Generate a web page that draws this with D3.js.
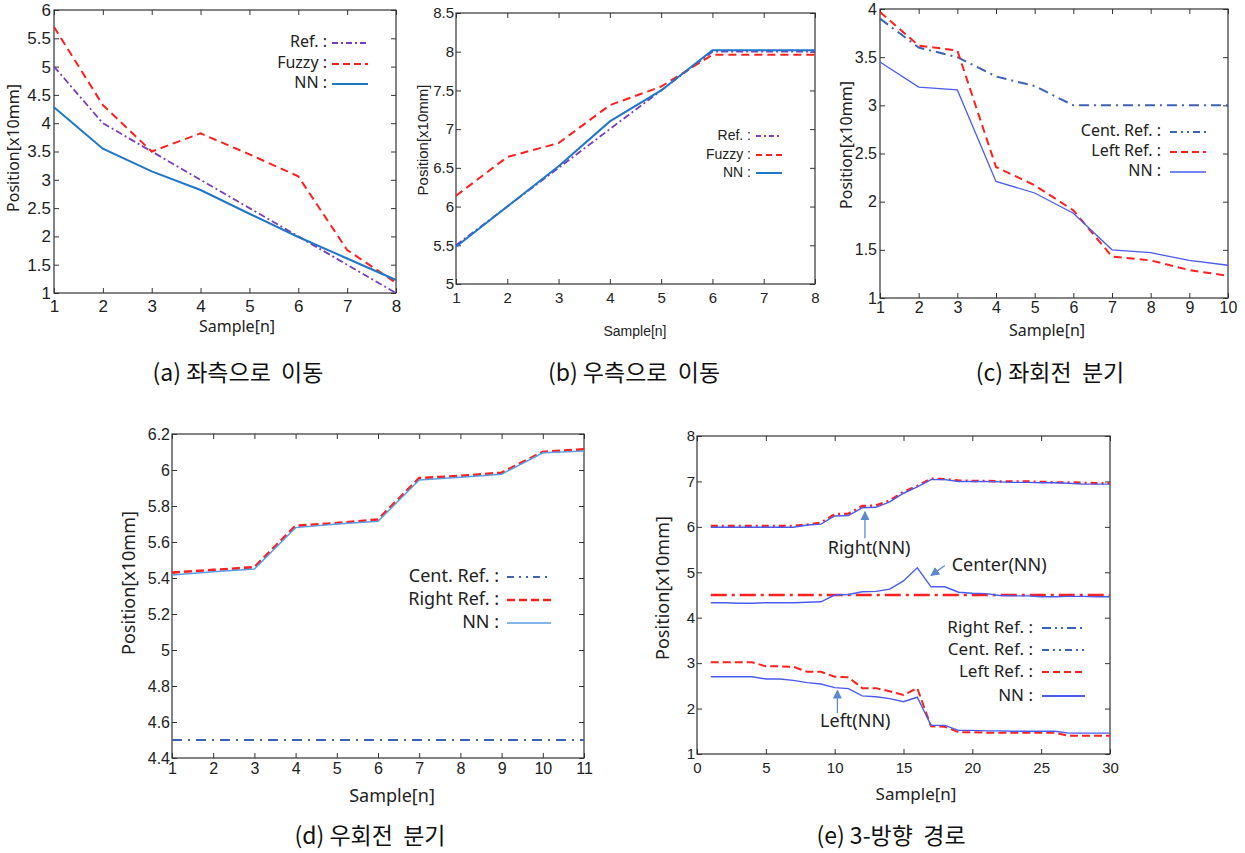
<!DOCTYPE html>
<html>
<head>
<meta charset="utf-8">
<style>
  body { margin: 0; background: #fff; }
  svg { display: block; }
  .caption { font-family: "Noto Sans CJK KR", sans-serif; font-size: 23px; fill: #111; white-space: pre; }
  .lbl { font-family: "Noto Sans", "Open Sans", sans-serif; fill: #222; }
</style>
</head>
<body>
<script src="https://d3js.org/d3.v7.min.js"></script>
<script>

var width = 1245,
    height = 853;

// ---- (a) move left
var aSamples = [1, 2, 3, 4, 5, 6, 7, 8];
var aRef   = [5.0, 4.0, 3.5, 3.0, 2.5, 2.0, 1.5, 1.0];
var aFuzzy = [5.7, 4.32, 3.5, 3.82, 3.45, 3.06, 1.76, 1.18];
var aNN    = [4.28, 3.55, 3.15, 2.82, 2.4, 1.99, 1.61, 1.23];
var aXTicks = [1, 2, 3, 4, 5, 6, 7, 8];
var aYTicks = [1, 1.5, 2, 2.5, 3, 3.5, 4, 4.5, 5, 5.5, 6];

// ---- (b) move right
var bSamples = [1, 2, 3, 4, 5, 6, 7, 8];
var bRef   = [5.5, 6.0, 6.5, 7.0, 7.5, 8.0, 8.0, 8.0];
var bFuzzy = [6.14, 6.64, 6.82, 7.31, 7.55, 7.96, 7.96, 7.96];
var bNN    = [5.48, 6.0, 6.52, 7.1, 7.5, 8.02, 8.02, 8.02];
var bXTicks = [1, 2, 3, 4, 5, 6, 7, 8];
var bYTicks = [5, 5.5, 6, 6.5, 7, 7.5, 8, 8.5];

// ---- (c) left turn branch
var cSamples = [1, 2, 3, 4, 5, 6, 7, 8, 9, 10];
var cCentRef = [3.9, 3.6, 3.5, 3.3, 3.2, 3.0, 3.0, 3.0, 3.0, 3.0];
var cLeftRef = [3.97, 3.62, 3.57, 2.36, 2.17, 1.91, 1.43, 1.39, 1.29, 1.23];
var cNN      = [3.45, 3.19, 3.16, 2.21, 2.09, 1.88, 1.5, 1.47, 1.39, 1.34];
var cXTicks = [1, 2, 3, 4, 5, 6, 7, 8, 9, 10];
var cYTicks = [1, 1.5, 2, 2.5, 3, 3.5, 4];

// ---- (d) right turn branch
var dSamples = [1, 2, 3, 4, 5, 6, 7, 8, 9, 10, 11];
var dCentRef  = [4.5, 4.5, 4.5, 4.5, 4.5, 4.5, 4.5, 4.5, 4.5, 4.5, 4.5];
var dRightRef = [5.43, 5.445, 5.46, 5.69, 5.705, 5.725, 5.955, 5.967, 5.985, 6.1, 6.115];
var dNN       = [5.417, 5.435, 5.45, 5.68, 5.7, 5.715, 5.945, 5.96, 5.977, 6.096, 6.105];
var dXTicks = [1, 2, 3, 4, 5, 6, 7, 8, 9, 10, 11];
var dYTicks = [4.4, 4.6, 4.8, 5, 5.2, 5.4, 5.6, 5.8, 6, 6.2];

// ---- (e) 3-way path
var eSamples = [1, 2, 3, 4, 5, 6, 7, 8, 9, 10, 11, 12, 13, 14, 15, 16, 17, 18, 19, 20, 21, 22, 23, 24, 25, 26, 27, 28, 29, 30];
var eRightRef = [6.02, 6.02, 6.02, 6.02, 6.02, 6.02, 6.02, 6.05, 6.09, 6.28, 6.29, 6.46, 6.47, 6.58, 6.77, 6.9, 7.06, 7.05, 7.02, 7.01, 7.01, 7.0, 7.0, 7.0, 6.99, 6.98, 6.98, 6.97, 6.96, 6.96];
var eRightNN  = [5.99, 5.99, 5.99, 5.99, 5.99, 5.99, 5.99, 6.04, 6.06, 6.24, 6.25, 6.42, 6.43, 6.55, 6.74, 6.88, 7.04, 7.04, 7.0, 7.0, 7.0, 6.99, 6.98, 6.98, 6.97, 6.97, 6.96, 6.94, 6.94, 6.94];
var eCentRef  = [4.5, 4.5, 4.5, 4.5, 4.5, 4.5, 4.5, 4.5, 4.5, 4.5, 4.5, 4.5, 4.5, 4.5, 4.5, 4.5, 4.5, 4.5, 4.5, 4.5, 4.5, 4.5, 4.5, 4.5, 4.5, 4.5, 4.5, 4.5, 4.5, 4.5];
var eCentNN   = [4.33, 4.33, 4.32, 4.32, 4.33, 4.33, 4.33, 4.34, 4.35, 4.5, 4.51, 4.57, 4.58, 4.63, 4.81, 5.1, 4.68, 4.68, 4.56, 4.54, 4.53, 4.49, 4.48, 4.48, 4.46, 4.46, 4.47, 4.47, 4.46, 4.46];
var eLeftRef  = [3.02, 3.02, 3.02, 3.02, 2.93, 2.93, 2.92, 2.81, 2.81, 2.7, 2.69, 2.45, 2.45, 2.38, 2.3, 2.45, 1.61, 1.6, 1.48, 1.48, 1.47, 1.47, 1.47, 1.47, 1.47, 1.47, 1.4, 1.4, 1.4, 1.4];
var eLeftNN   = [2.7, 2.7, 2.7, 2.7, 2.65, 2.65, 2.62, 2.57, 2.54, 2.46, 2.44, 2.28, 2.26, 2.22, 2.15, 2.25, 1.63, 1.63, 1.52, 1.52, 1.51, 1.51, 1.5, 1.5, 1.5, 1.5, 1.46, 1.46, 1.46, 1.46];
var eXTicks = [0, 5, 10, 15, 20, 25, 30];
var eYTicks = [1, 2, 3, 4, 5, 6, 7, 8];

// annotation labels in (e): text, text pos, arrow from, arrow to (data coords)
var eNotes = [
  { text: "Right(NN)",  tx: 9.5,  ty: 5.51, x1: 12.2, y1: 5.75, x2: 12.2, y2: 6.33 },
  { text: "Center(NN)", tx: 18.5, ty: 5.13, x1: 18.0, y1: 5.15, x2: 17.0, y2: 4.93 },
  { text: "Left(NN)",   tx: 8.94, ty: 1.70, x1: 10.2, y1: 1.9,  x2: 10.2, y2: 2.4 }
];

var captions = ["(a) 좌측으로  이동", "(b) 우측으로  이동", "(c) 좌회전  분기", "(d) 우회전  분기", "(e) 3-방향  경로"];

// colours
var RED = "#ff1f1f",
    PURPLE = "#7a3cc0",
    BLUE = "#1f77c9",
    CENT = "#3d62b5",
    NNC = "#4a5cf0",
    NND = "#5a9de4";

var svg = d3.select("body").append("svg")
    .attr("width", width)
    .attr("height", height);

svg.append("defs").append("marker")
    .attr("id", "arrow")
    .attr("viewBox", "0 0 10 10")
    .attr("refX", 9).attr("refY", 5)
    .attr("markerWidth", 9).attr("markerHeight", 9)
    .attr("markerUnits", "userSpaceOnUse")
    .attr("orient", "auto")
  .append("path")
    .attr("d", "M0,0 L10,5 L0,10 z")
    .attr("fill", "#5a8ad0");

function fmt(d) { return String(d); }

function drawPanel(p) {
  var g = svg.append("g");
  var x = d3.scaleLinear().domain(p.xDomain).range([p.left, p.right]);
  var y = d3.scaleLinear().domain(p.yDomain).range([p.bottom, p.top]);

  // inward ticks on all four sides
  g.append("g").attr("transform", "translate(0," + p.bottom + ")")
      .call(d3.axisBottom(x).tickValues(p.xTicks).tickSize(-5).tickSizeOuter(0).tickPadding(p.xPad).tickFormat(fmt));
  g.append("g").attr("transform", "translate(" + p.left + ",0)")
      .call(d3.axisLeft(y).tickValues(p.yTicks).tickSize(-5).tickSizeOuter(0).tickPadding(p.yPad).tickFormat(fmt));
  g.append("g").attr("transform", "translate(0," + p.top + ")")
      .call(d3.axisTop(x).tickValues(p.xTicks).tickSize(-5).tickSizeOuter(0).tickFormat(""));
  g.append("g").attr("transform", "translate(" + p.right + ",0)")
      .call(d3.axisRight(y).tickValues(p.yTicks).tickSize(-5).tickSizeOuter(0).tickFormat(""));

  g.selectAll(".domain").remove();
  g.selectAll(".tick line").attr("stroke", "#333");
  g.selectAll(".tick text")
      .attr("fill", "#222")
      .style("font-family", p.tickFont)
      .style("font-size", p.tickSize + "px");

  g.append("rect")
      .attr("x", p.left).attr("y", p.top)
      .attr("width", p.right - p.left).attr("height", p.bottom - p.top)
      .attr("fill", "none").attr("stroke", "#333").attr("stroke-width", 1.2);

  // series
  p.series.forEach(function(s) {
    var line = d3.line()
        .x(function(d, i) { return x(p.samples[i]); })
        .y(function(d) { return y(d); });
    g.append("path")
        .datum(s.values)
        .attr("d", line)
        .attr("fill", "none")
        .attr("stroke", s.color)
        .attr("stroke-width", s.width)
        .attr("stroke-dasharray", s.dash || null);
  });

  // axis titles
  g.append("text").attr("class", "lbl")
      .attr("x", p.xLabel[0]).attr("y", p.xLabel[1])
      .attr("text-anchor", "middle").attr("dominant-baseline", "middle")
      .style("font-family", p.labelFont)
      .style("font-size", p.xLabel[2] + "px")
      .text("Sample[n]");
  g.append("text").attr("class", "lbl")
      .attr("transform", "translate(" + p.yLabel[0] + "," + p.yLabel[1] + ") rotate(-90)")
      .attr("text-anchor", "middle").attr("dominant-baseline", "middle")
      .style("font-family", p.labelFont)
      .style("font-size", p.yLabel[2] + "px")
      .text("Position[x10mm]");

  // legend
  var lg = p.legend;
  lg.items.forEach(function(it, i) {
    var yy = lg.rows[i];
    g.append("text").attr("class", "lbl")
        .attr("x", lg.textEnd).attr("y", yy)
        .attr("text-anchor", "end").attr("dominant-baseline", "middle")
        .style("font-family", p.labelFont)
        .style("font-size", lg.size + "px")
        .text(it.label + " :");
    g.append("line")
        .attr("x1", lg.x1).attr("x2", lg.x2)
        .attr("y1", yy).attr("y2", yy)
        .attr("stroke", it.color)
        .attr("stroke-width", it.width)
        .attr("stroke-dasharray", it.dash || null);
  });

  // caption
  svg.append("text").attr("class", "caption")
      .attr("x", p.caption[0]).attr("y", p.caption[1])
      .attr("text-anchor", "middle")
      .text(p.caption[2]);

  return { x: x, y: y, g: g };
}

var tickFont = "'Liberation Sans', Arial, sans-serif";
var narrowFont = "'Liberation Sans Narrow', 'Liberation Sans', Arial, sans-serif";
var labelFont = "'Noto Sans', 'Open Sans', sans-serif";

// (a)
drawPanel({
  left: 54, right: 396, top: 10, bottom: 293,
  xDomain: [1, 8], yDomain: [1, 6], xTicks: aXTicks, yTicks: aYTicks,
  xPad: 7, yPad: 3, tickFont: narrowFont, tickSize: 17, labelFont: labelFont,
  samples: aSamples,
  series: [
    { values: aRef, color: PURPLE, width: 1.8, dash: "7,3,2,3" },
    { values: aFuzzy, color: RED, width: 2, dash: "8,5" },
    { values: aNN, color: BLUE, width: 2 }
  ],
  xLabel: [237, 328, 16], yLabel: [15, 148, 16],
  legend: { textEnd: 327, x1: 332, x2: 368, rows: [43, 64, 84], size: 16,
    items: [
      { label: "Ref.", color: PURPLE, width: 1.8, dash: "6,3,2,3" },
      { label: "Fuzzy", color: RED, width: 2, dash: "7,4" },
      { label: "NN", color: BLUE, width: 2 }
    ] },
  caption: [238, 381, captions[0]]
});

// (b)
drawPanel({
  left: 456, right: 815, top: 13, bottom: 284,
  xDomain: [1, 8], yDomain: [5, 8.5], xTicks: bXTicks, yTicks: bYTicks,
  xPad: 8, yPad: 2, tickFont: narrowFont, tickSize: 15, labelFont: narrowFont,
  samples: bSamples,
  series: [
    { values: bRef, color: PURPLE, width: 1.8, dash: "7,3,2,3" },
    { values: bFuzzy, color: RED, width: 2, dash: "8,5" },
    { values: bNN, color: BLUE, width: 2 }
  ],
  xLabel: [635, 332, 14], yLabel: [424, 140, 15],
  legend: { textEnd: 751, x1: 756, x2: 782, rows: [136, 155, 173], size: 14,
    items: [
      { label: "Ref.", color: PURPLE, width: 1.8, dash: "5,3,2,3" },
      { label: "Fuzzy", color: RED, width: 2, dash: "6,4" },
      { label: "NN", color: BLUE, width: 2 }
    ] },
  caption: [634, 381, captions[1]]
});

// (c)
drawPanel({
  left: 880, right: 1228, top: 9, bottom: 298,
  xDomain: [1, 10], yDomain: [1, 4], xTicks: cXTicks, yTicks: cYTicks,
  xPad: 4, yPad: 3, tickFont: narrowFont, tickSize: 16, labelFont: labelFont,
  samples: cSamples,
  series: [
    { values: cCentRef, color: CENT, width: 2, dash: "10,5,2,5" },
    { values: cLeftRef, color: RED, width: 2, dash: "8,5" },
    { values: cNN, color: NNC, width: 1.3 }
  ],
  xLabel: [1047, 332, 16], yLabel: [848, 145, 16],
  legend: { textEnd: 1161, x1: 1170, x2: 1206, rows: [132, 152, 172], size: 16,
    items: [
      { label: "Cent. Ref.", color: CENT, width: 2, dash: "7,4,2,4,2,4" },
      { label: "Left Ref.", color: RED, width: 2, dash: "7,4" },
      { label: "NN", color: NNC, width: 1.5 }
    ] },
  caption: [1050, 381, captions[2]]
});

// (d)
drawPanel({
  left: 172, right: 584, top: 434, bottom: 758,
  xDomain: [1, 11], yDomain: [4.4, 6.2], xTicks: dXTicks, yTicks: dYTicks,
  xPad: 5, yPad: 2, tickFont: tickFont, tickSize: 16, labelFont: labelFont,
  samples: dSamples,
  series: [
    { values: dCentRef, color: CENT, width: 1.8, dash: "10,6,2,6" },
    { values: dRightRef, color: RED, width: 2.6, dash: "8,4" },
    { values: dNN, color: NND, width: 1.5 }
  ],
  xLabel: [392, 797, 18], yLabel: [130, 583, 18],
  legend: { textEnd: 499, x1: 507, x2: 551, rows: [577, 600, 623], size: 18,
    items: [
      { label: "Cent. Ref.", color: CENT, width: 2, dash: "7,5,2,5,2,5" },
      { label: "Right Ref.", color: RED, width: 2.4, dash: "8,4" },
      { label: "NN", color: NND, width: 1.5 }
    ] },
  caption: [370, 844, captions[3]]
});

// (e)
var e = drawPanel({
  left: 697, right: 1110, top: 436, bottom: 754,
  xDomain: [0, 30], yDomain: [1, 8], xTicks: eXTicks, yTicks: eYTicks,
  xPad: 8, yPad: 2, tickFont: tickFont, tickSize: 15, labelFont: labelFont,
  samples: eSamples,
  series: [
    { values: eRightRef, color: RED, width: 2.4, dash: "7,4,2,4" },
    { values: eRightNN, color: NNC, width: 1.4 },
    { values: eCentRef, color: RED, width: 2.4, dash: "16,5,3,5" },
    { values: eCentNN, color: NNC, width: 1.4 },
    { values: eLeftRef, color: RED, width: 2, dash: "8,4" },
    { values: eLeftNN, color: NNC, width: 1.4 }
  ],
  xLabel: [916, 795, 17], yLabel: [664, 588, 18],
  legend: { textEnd: 1033, x1: 1042, x2: 1085, rows: [628, 650, 672, 696], size: 17,
    items: [
      { label: "Right Ref.", color: CENT, width: 2, dash: "9,4,2,4,2,4" },
      { label: "Cent. Ref.", color: CENT, width: 2, dash: "7,4,2,4,2,4" },
      { label: "Left Ref.", color: RED, width: 2, dash: "7,4" },
      { label: "NN", color: NNC, width: 1.8 }
    ] },
  caption: [891, 844, captions[4]]
});

// annotations in (e)
eNotes.forEach(function(n) {
  e.g.append("line")
      .attr("x1", e.x(n.x1)).attr("y1", e.y(n.y1))
      .attr("x2", e.x(n.x2)).attr("y2", e.y(n.y2))
      .attr("stroke", "#5a8ad0").attr("stroke-width", 1.3)
      .attr("marker-end", "url(#arrow)");
  e.g.append("text").attr("class", "lbl")
      .attr("x", e.x(n.tx)).attr("y", e.y(n.ty))
      .attr("dominant-baseline", "middle")
      .style("font-size", "18px")
      .text(n.text);
});

</script>
</body>
</html>
